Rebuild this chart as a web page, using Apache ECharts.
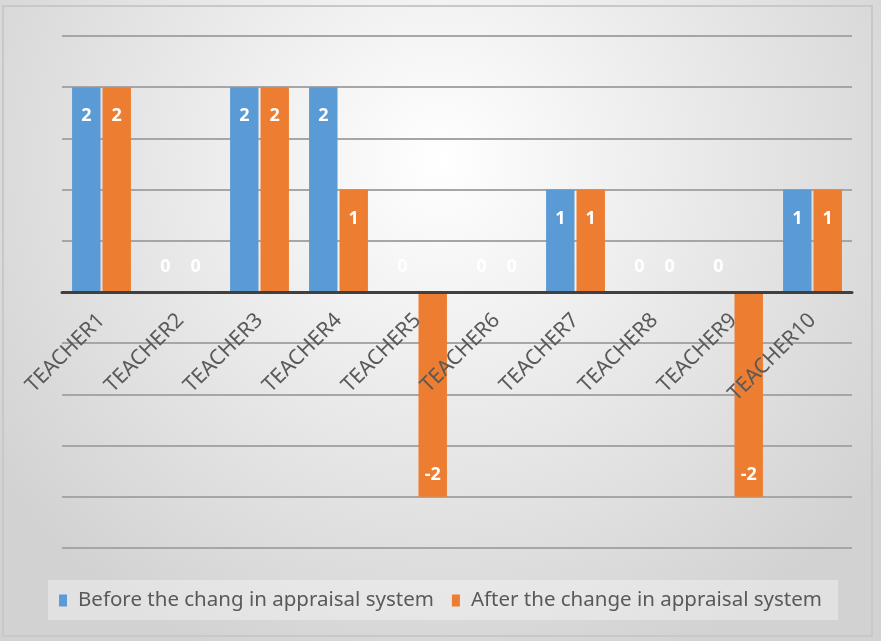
<!DOCTYPE html>
<html>
<head>
<meta charset="utf-8">
<script src="https://cdn.jsdelivr.net/npm/echarts@6/dist/echarts.min.js"></script>
<style>
  html, body { margin: 0; padding: 0; }
  #chart { width: 881px; height: 641px; }
</style>
</head>
<body>
<div id="chart"></div>
<script>
const teachers = ['TEACHER1', 'TEACHER2', 'TEACHER3', 'TEACHER4', 'TEACHER5',
  'TEACHER6', 'TEACHER7', 'TEACHER8', 'TEACHER9', 'TEACHER10']
const beforeValues = [2, 0, 2, 2, 0, 0, 1, 0, 0, 1]
const afterValues = [2, 0, 2, 1, -2, 0, 1, 0, -2, 1]
const seriesNames = ['Before the chang in appraisal system', 'After the change in appraisal system']

const font = "'Liberation Sans Narrow', 'Noto Sans', sans-serif"

// label position depends on the sign, like Excel's "inside end"
const withLabels = (values) => values.map(v => {
  let label
  if (v > 0) label = { position: 'insideTop', distance: 20 }
  else if (v < 0) label = { position: 'insideBottom', distance: 13 }
  else label = { position: 'top', distance: 16 }
  return { value: v, label }
})

const chart = echarts.init(document.getElementById('chart'))

const option = {
  backgroundColor: new echarts.graphic.RadialGradient(0.5, 0.25, 0.85, [
    { offset: 0, color: '#ffffff' },
    { offset: 1, color: '#d2d2d2' }
  ]),
  graphic: [
    {
      type: 'rect',
      shape: { x: 3, y: 6, width: 869, height: 630 },
      style: { fill: 'none', stroke: '#c8c8c8', lineWidth: 2 }
    },
    {
      type: 'rect',
      shape: { x: 48, y: 580, width: 790, height: 40 },
      style: { fill: 'rgba(255,255,255,0.35)' },
      z: -1
    }
  ],
  legend: {
    data: seriesNames,
    bottom: 25,
    left: 'center',
    itemWidth: 8,
    itemHeight: 12,
    itemGap: 18,
    icon: 'rect',
    textStyle: { fontFamily: font, fontSize: 20.5, color: '#595959', padding: [0, 0, 0, 6] }
  },
  grid: {
    left: 62,
    right: 29,
    top: 36,
    bottom: 93
  },
  xAxis: {
    type: 'category',
    data: teachers,
    z: 5,
    // put the axis (and its labels) on the zero line
    offset: -256,
    axisLine: { onZero: false, lineStyle: { color: '#404040', width: 3 } },
    axisTick: { show: false },
    axisLabel: {
      rotate: 45,
      margin: 25,
      interval: 0,
      fontFamily: font,
      fontSize: 21,
      color: '#595959'
    }
  },
  yAxis: {
    type: 'value',
    min: -2.5,
    max: 2.5,
    interval: 0.5,
    axisLine: { show: false },
    axisTick: { show: false },
    axisLabel: { show: false },
    splitLine: { lineStyle: { color: '#a6a6a6', width: 2 } }
  },
  series: [
    {
      name: seriesNames[0],
      type: 'bar',
      data: withLabels(beforeValues),
      barWidth: '36%',
      barGap: '7%',
      itemStyle: { color: '#5b9bd5' },
      label: {
        show: true,
        color: '#ffffff',
        fontWeight: 'bold',
        fontFamily: font,
        fontSize: 18
      }
    },
    {
      name: seriesNames[1],
      type: 'bar',
      data: withLabels(afterValues),
      barWidth: '36%',
      barGap: '7%',
      itemStyle: { color: '#ed7d31' },
      label: {
        show: true,
        color: '#ffffff',
        fontWeight: 'bold',
        fontFamily: font,
        fontSize: 18
      }
    }
  ]
}

chart.setOption(option)
</script>
</body>
</html>
